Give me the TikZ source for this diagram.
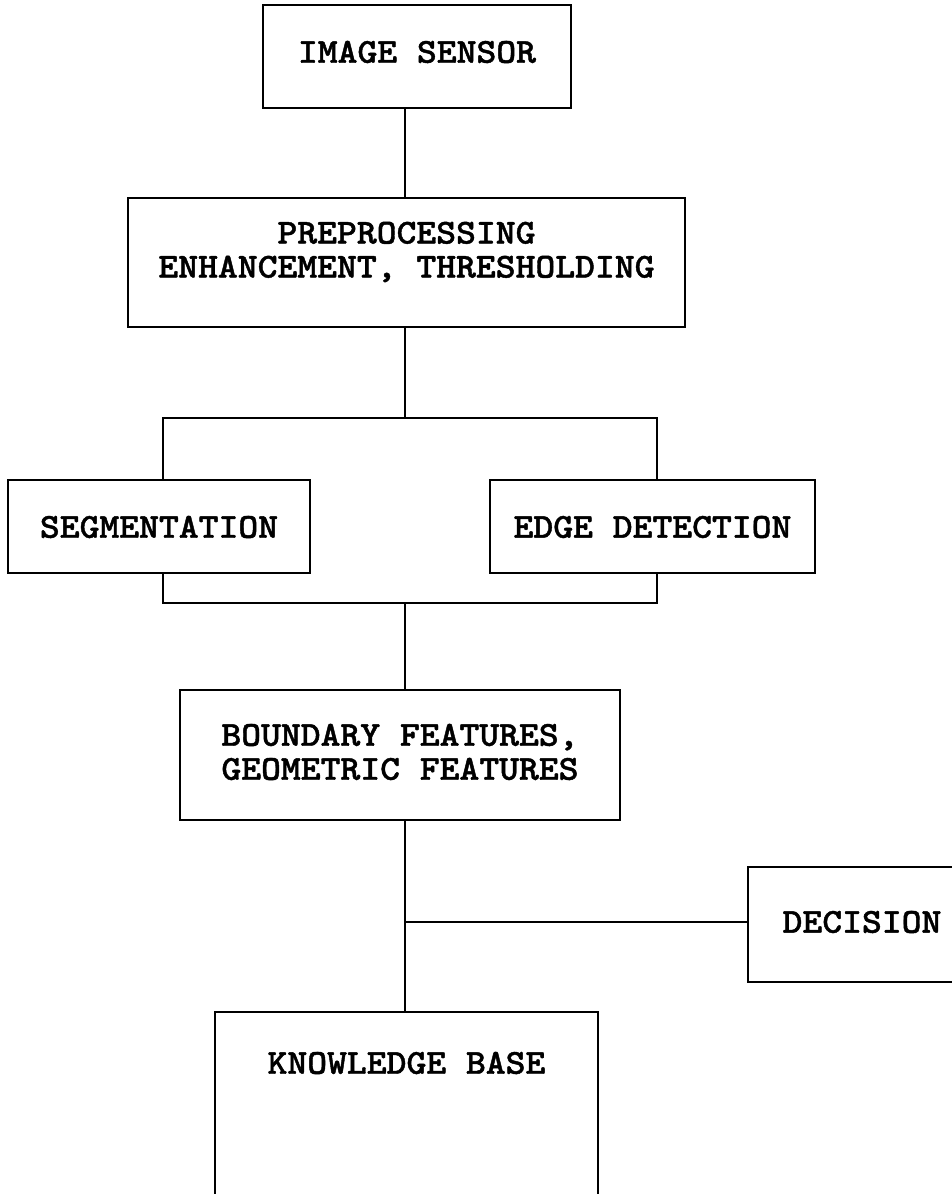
\documentclass[tikz,border=0pt]{standalone}
\usepackage{fontspec}
\newfontfamily\diafont{lmmonolt10-bold.otf}[FakeBold=1.2,FakeStretch=1.08]
\begin{document}
\begin{tikzpicture}[x=1pt,y=-1pt,
  box/.style={draw=black, line width=2.8pt, fill=none, inner sep=0pt},
  lbl/.style={font=\diafont\fontsize{35}{34}\selectfont, align=center, inner sep=0pt},
  conn/.style={draw=black, line width=2.8pt}]
\useasboundingbox[fill=white] (0,0) rectangle (952,1194);
% trunk and branch x positions
\coordinate (tx) at (405,0);
\coordinate (sx) at (163,0);
\coordinate (ex) at (657,0);
% boxes
\node[box, minimum width=308pt, minimum height=103pt] (sensor) at (417,56.5) {};
\node[lbl] (sensorT) at (417,52) {IMAGE SENSOR};
\node[box, minimum width=557pt, minimum height=129pt] (pre) at (406.5,262.5) {};
\node[lbl] (preT) at (406.5,252) {PREPROCESSING\\ENHANCEMENT, THRESHOLDING};
\node[box, minimum width=302pt, minimum height=93pt] (seg) at (159,526.5) {};
\node[lbl] (segT) at (159,527) {SEGMENTATION};
\node[box, minimum width=325pt, minimum height=93pt] (edge) at (652.5,526.5) {};
\node[lbl] (edgeT) at (652.5,527) {EDGE DETECTION};
\node[box, minimum width=440pt, minimum height=130pt] (bnd) at (400,755) {};
\node[lbl] (bndT) at (400,752) {BOUNDARY FEATURES,\\GEOMETRIC FEATURES};
\node[box, minimum width=232pt, minimum height=115pt] (dec) at (864,924.5) {};
\node[lbl] (decT) at (862,922) {DECISION};
\node[box, minimum width=383pt, minimum height=220pt] (kb) at (406.5,1122) {};
\node[lbl] (kbT) at (406.5,1063) {KNOWLEDGE BASE};
% junctions
\coordinate (j1) at (405,418);
\coordinate (j2) at (405,603);
\coordinate (j3) at (405,922);
% connectors
\draw[conn] (sensor.south -| tx) -- (pre.north -| tx);
\draw[conn] (pre.south -| tx) -- (j1);
\draw[conn] (seg.north -| sx) -- (sx |- j1) -- (ex |- j1) -- (edge.north -| ex);
\draw[conn] (seg.south -| sx) -- (sx |- j2) -- (ex |- j2) -- (edge.south -| ex);
\draw[conn] (j2) -- (bnd.north -| tx);
\draw[conn] (bnd.south -| tx) -- (kb.north -| tx);
\draw[conn] (j3) -- (dec.west |- j3);
\end{tikzpicture}
\end{document}
